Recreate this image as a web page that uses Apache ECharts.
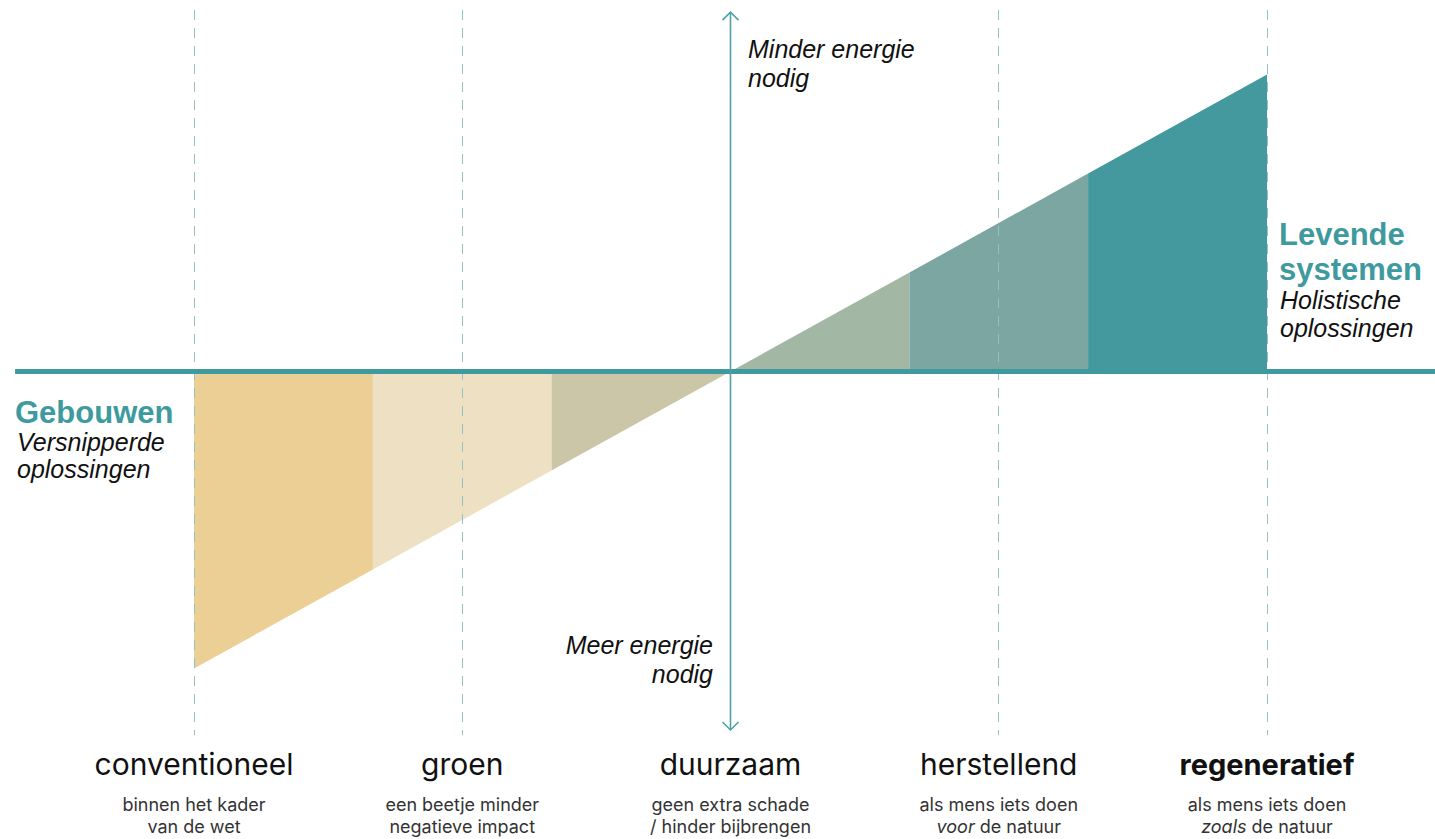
<!DOCTYPE html>
<html><head><meta charset="utf-8">
<script src="https://cdn.jsdelivr.net/npm/echarts@6/dist/echarts.min.js"></script>
<style>html,body{margin:0;padding:0;background:#fff}#c{width:1435px;height:839px}</style>
</head><body><div id="c"></div>
<script>
// ---- data ----
const stages = ['conventioneel', 'groen', 'duurzaam', 'herstellend', 'regeneratief'];
const stagePos = [0, 1, 2, 3, 4];
const noteLine1 = ['binnen het kader', 'een beetje minder', 'geen extra schade', 'als mens iets doen', 'als mens iets doen'];
const noteItalic = ['', '', '', 'voor', 'zoals'];
const noteLine2 = ['van de wet', 'negatieve impact', '/ hinder bijbrengen', ' de natuur', ' de natuur'];
const bandX = [0, 0.667, 1.333, 2, 2.667, 3.333, 4];
const bandY = [-1, -0.667, -0.333, 0, 0.333, 0.667, 1];
const baseLineX = [-0.667, 4.63];
const guideX = [0, 1, 3, 4];
const guideTop = 1.217, guideBottom = -1.224;
const arrowX = [2];
const arrowTop = [1.21];
const arrowBottom = [-1.207];

// ---- styles ----
const bandColors = ['#EBCF95', '#EEE1C3', '#CBC6A7', '#A3B7A5', '#7BA6A2', '#44999E'];
const teal = '#3E9A9E';
const guideColor = '#93C2C1';
const sans = '"Liberation Sans", Arial, sans-serif';
const inter = 'Inter, "Noto Sans", sans-serif';

const series = [];
// guide dashed lines
series.push({
  type: 'line', data: [], silent: true, z: 1,
  markLine: {
    silent: true, symbol: ['none', 'none'], label: { show: false },
    lineStyle: { type: [10, 8], color: guideColor, width: 1 },
    data: guideX.map(x => [{ coord: [x, guideTop] }, { coord: [x, guideBottom] }])
  }
});
// bands
for (let i = 0; i < bandColors.length; i++) {
  series.push({
    type: 'line', z: 2, symbol: 'none', silent: true,
    data: [[bandX[i], bandY[i]], [bandX[i + 1], bandY[i + 1]]],
    lineStyle: { width: 0 },
    areaStyle: { color: bandColors[i], opacity: 1, origin: 0 }
  });
}
// base line
series.push({
  type: 'line', z: 5, symbol: 'none', silent: true,
  data: [[baseLineX[0], 0], [baseLineX[1], 0]],
  lineStyle: { width: 5, color: teal }
});
// arrow
series.push({
  type: 'custom', z: 6, silent: true,
  data: arrowX.map((x, i) => [x, arrowTop[i], arrowBottom[i]]),
  renderItem: function (params, api) {
    const t = api.coord([api.value(0), api.value(1)]);
    const b = api.coord([api.value(0), api.value(2)]);
    const s = { stroke: '#4FA2A4', lineWidth: 1.6, fill: null };
    const h = 8;
    return {
      type: 'group', children: [
        { type: 'line', shape: { x1: t[0], y1: t[1], x2: b[0], y2: b[1] }, style: s },
        { type: 'polyline', shape: { points: [[t[0] - h, t[1] + h], [t[0], t[1]], [t[0] + h, t[1] + h]] }, style: s },
        { type: 'polyline', shape: { points: [[b[0] - h, b[1] - h], [b[0], b[1]], [b[0] + h, b[1] - h]] }, style: s }
      ]
    };
  }
});

function txt(text, x, y, opt) {
  return {
    type: 'text', x: x, y: y, silent: true, z: 10,
    style: Object.assign({ text: text, fill: '#111', align: 'left', verticalAlign: 'middle',
      fontFamily: sans, fontSize: 22 }, opt)
  };
}
const bold = { fill: teal, fontWeight: 'bold', fontSize: 31 };
const ital = { fontStyle: 'italic', fontSize: 25 };
const graphics = [
  txt('Gebouwen', 15, 412, bold),
  txt('Versnipperde', 17, 442, ital),
  txt('oplossingen', 17, 469, ital),
  txt('Levende', 1279, 234, bold),
  txt('systemen', 1279, 269, bold),
  txt('Holistische', 1280, 300, ital),
  txt('oplossingen', 1280, 328, ital),
  txt('Minder energie', 748, 49, ital),
  txt('nodig', 748, 78, ital),
  txt('Meer energie', 713, 645, Object.assign({ align: 'right' }, ital)),
  txt('nodig', 713, 674, Object.assign({ align: 'right' }, ital))
];

const chart = echarts.init(document.getElementById('c'), null, { renderer: 'svg' });
chart.setOption({
  animation: false,
  backgroundColor: '#fff',
  grid: { left: 0, right: 0, top: 0, bottom: 94, containLabel: false },
  xAxis: {
    type: 'value', min: -0.7232, max: 4.6263,
    axisLine: { show: false }, axisTick: { show: false }, splitLine: { show: false },
    axisLabel: {
      show: true, customValues: stagePos, margin: 12, verticalAlign: 'top', align: 'center',
      formatter: function (v) {
        const i = stagePos.indexOf(Math.round(v));
        if (i < 0) return '';
        const title = (i === 4 ? '{tb|' : '{t|') + stages[i] + '}';
        const l2 = noteItalic[i] ? '{si|' + noteItalic[i] + '}{s|' + noteLine2[i] + '}' : '{s|' + noteLine2[i] + '}';
        return title + '\n{s|' + noteLine1[i] + '}\n' + l2;
      },
      rich: {
        t: { fontFamily: inter, fontSize: 30, color: '#111', lineHeight: 36, padding: [0, 0, 22, 0] },
        tb: { fontFamily: inter, fontSize: 29, fontWeight: 'bold', color: '#111', lineHeight: 36, padding: [0, 0, 22, 0] },
        s: { fontFamily: inter, fontSize: 18, color: '#333', lineHeight: 22 },
        si: { fontFamily: inter, fontSize: 18, color: '#333', lineHeight: 22, fontStyle: 'italic' }
      }
    }
  },
  yAxis: { type: 'value', min: -1.2576, max: 1.2508, show: false },
  series: series,
  graphic: graphics
});
</script>
</body></html>
